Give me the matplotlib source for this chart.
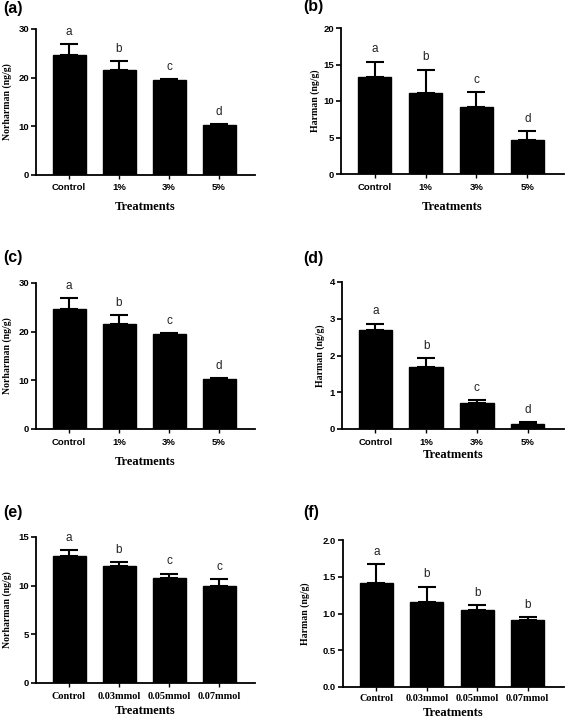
import matplotlib
matplotlib.use("Agg")
import matplotlib.pyplot as plt
import numpy as np

# ---------------- data ----------------
cats_pct = ["Control", "1%", "3%", "5%"]
cats_mmol = ["Control", "0.03mmol", "0.05mmol", "0.07mmol"]

a_vals = [24.6, 21.5, 19.5, 10.2]
a_err = [2.3, 1.9, 0.15, 0.25]
a_letters = ["a", "b", "c", "d"]

b_vals = [13.3, 11.05, 9.2, 4.7]
b_err = [2.1, 3.25, 2.05, 1.2]
b_letters = ["a", "b", "c", "d"]

c_vals = [24.6, 21.5, 19.5, 10.2]
c_err = [2.3, 1.9, 0.15, 0.25]
c_letters = ["a", "b", "c", "d"]

d_vals = [2.70, 1.70, 0.71, 0.135]
d_err = [0.17, 0.23, 0.08, 0.06]
d_letters = ["a", "b", "c", "d"]

e_vals = [13.0, 12.05, 10.75, 10.0]
e_err = [0.68, 0.38, 0.48, 0.65]
e_letters = ["a", "b", "c", "c"]

f_vals = [1.42, 1.16, 1.05, 0.91]
f_err = [0.25, 0.205, 0.06, 0.036]
f_letters = ["a", "b", "b", "b"]

W, H = 565, 720
fig = plt.figure(figsize=(W / 100, H / 100), dpi=100)

SANS = "Liberation Sans"
SERIF = "Liberation Serif"

panels = [
    ("(a)", cats_pct, a_vals, a_err, a_letters, "Norharman (ng/g)", 30, [0, 10, 20, 30], "{:.0f}", SANS,
     (36, 255, 29, 175), (3, 8), 7, 187, 207),
    ("(b)", cats_pct, b_vals, b_err, b_letters, "Harman (ng/g)", 20, [0, 5, 10, 15, 20], "{:.0f}", SANS,
     (341, 564, 28, 174), (303, 7), 315, 187, 207),
    ("(c)", cats_pct, c_vals, c_err, c_letters, "Norharman (ng/g)", 30, [0, 10, 20, 30], "{:.0f}", SANS,
     (36, 255, 283, 429), (3, 257), 7, 442, 462),
    ("(d)", cats_pct, d_vals, d_err, d_letters, "Harman (ng/g)", 4, [0, 1, 2, 3, 4], "{:.0f}", SANS,
     (342, 564, 282, 429), (303, 258), 320, 442, 455),
    ("(e)", cats_mmol, e_vals, e_err, e_letters, "Norharman (ng/g)", 15, [0, 5, 10, 15], "{:.0f}", SERIF,
     (36, 255, 537, 683), (3, 512), 7, 696, 711),
    ("(f)", cats_mmol, f_vals, f_err, f_letters, "Harman (ng/g)", 2.0, [0, 0.5, 1.0, 1.5, 2.0], "{:.1f}", SERIF,
     (343, 564, 540, 687), (303, 512), 305, 698, 713),
]

for (tag, cats, vals, err, letters, ylabel, ymax, yticks, yfmt, xfont,
     box, tagxy, ylx, tly, xly) in panels:
    l, r, t, b = box
    ax = fig.add_axes([l / W, 1 - b / H, (r - l) / W, (b - t) / H])
    x = np.arange(len(cats))
    ax.bar(x, vals, width=0.66, color="black", edgecolor="black", linewidth=1.0, zorder=2)
    ax.errorbar(x, vals, yerr=[np.zeros(len(vals)), err], fmt="none", ecolor="black",
                elinewidth=1.5, capsize=6.5, capthick=1.5, zorder=3)
    for xi, v, e, lt in zip(x, vals, err, letters):
        ax.annotate(lt, (xi, v + e), xytext=(0, 4.5), textcoords="offset points",
                    ha="center", va="bottom", fontsize=8.5, color="#222222", family=SANS)
    ax.set_xlim(-0.66, 3.72)
    ax.set_ylim(0, ymax)
    ax.set_yticks(yticks)
    ax.set_yticklabels([yfmt.format(v) for v in yticks], fontsize=6.8, fontweight="bold", family=SANS)
    ax.set_xticks(x)
    fs = 6.8 if xfont == SANS else 7.4
    ax.set_xticklabels(cats, fontsize=fs, fontweight="bold", family=xfont)
    ax.tick_params(axis="x", length=3, width=1.0, pad=max((tly - b) * 0.72 - 6, 0.5))
    ax.tick_params(axis="y", length=3.5, width=1.2, pad=1.5)
    for s in ["top", "right"]:
        ax.spines[s].set_visible(False)
    for s in ["left", "bottom"]:
        ax.spines[s].set_linewidth(1.3)
    ax.set_ylabel(ylabel, fontsize=7, fontweight="bold", family=SERIF, va="center")
    ax.yaxis.set_label_coords((ylx - l) / (r - l), 0.5)
    ax.set_xlabel("Treatments", fontsize=9, fontweight="bold", family=SERIF, va="center")
    ax.xaxis.set_label_coords(0.5, (b - xly) / (b - t))
    fig.text(tagxy[0] / W, 1 - tagxy[1] / H, tag, fontsize=11.5, fontweight="bold",
             family=SANS, ha="left", va="center")

fig.savefig("out.png", dpi=100)
